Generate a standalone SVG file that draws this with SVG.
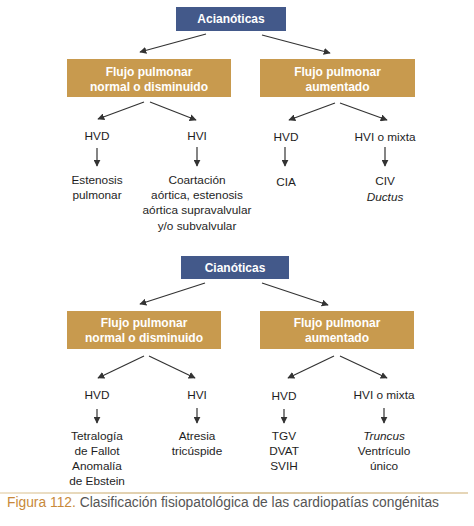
<svg xmlns="http://www.w3.org/2000/svg" width="474" height="526" viewBox="0 0 474 526">
<defs>
<marker id="ah" viewBox="0 0 10 10" refX="9" refY="5" markerWidth="7" markerHeight="7" markerUnits="userSpaceOnUse" orient="auto">
<path d="M0,0 L10,5 L0,10 z" fill="#333"/>
</marker>
<linearGradient id="sep" x1="0" x2="1" y1="0" y2="0">
<stop offset="0" stop-color="#efe3cc"/>
<stop offset="0.5" stop-color="#d8c39a"/>
<stop offset="1" stop-color="#e6d6b8"/>
</linearGradient>
</defs>
<style>
.blue{fill:#43598a}
.tan{fill:#c89a4e}
.bt{font-family:"Liberation Sans",Arial,sans-serif;font-weight:bold;font-size:12px;fill:#fff;text-anchor:middle}
.t{font-family:"Liberation Sans",Arial,sans-serif;font-size:11.8px;fill:#1e1e1e;text-anchor:middle}
.i{font-style:italic}
.c line{stroke:#333;stroke-width:1.2;marker-end:url(#ah)}
</style>
<rect width="474" height="526" fill="#fff"/>

<g id="acianoticas"><rect class="blue" x="176" y="7" width="110" height="24"/><text class="bt" x="231" y="23">Acianóticas</text></g>
<g id="a-flujo-normal"><rect class="tan" x="67" y="59" width="164" height="38"/><text class="bt" x="149" y="76">Flujo pulmonar</text><text class="bt" x="149" y="90.5">normal o disminuido</text></g>
<g id="a-flujo-aumentado"><rect class="tan" x="260" y="59" width="155" height="38"/><text class="bt" x="337.5" y="76">Flujo pulmonar</text><text class="bt" x="337.5" y="90.5">aumentado</text></g>

<g id="a-hvd1"><text class="t" x="97" y="140">HVD</text></g>
<g id="a-hvi1"><text class="t" x="197" y="140">HVI</text></g>
<g id="a-hvd2"><text class="t" x="286" y="141">HVD</text></g>
<g id="a-hvi2"><text class="t" x="385" y="141">HVI o mixta</text></g>

<g id="a-estenosis"><text class="t" x="97" y="184">Estenosis</text><text class="t" x="97" y="199">pulmonar</text></g>
<g id="a-coartacion"><text class="t" x="197" y="184">Coartación</text><text class="t" x="197" y="199">aórtica, estenosis</text><text class="t" x="197" y="214">aórtica supravalvular</text><text class="t" x="197" y="230">y/o subvalvular</text></g>
<g id="a-cia"><text class="t" x="286" y="186">CIA</text></g>
<g id="a-civ"><text class="t" x="385" y="185">CIV</text><text class="t i" x="385" y="201">Ductus</text></g>

<g id="cianoticas"><rect class="blue" x="181" y="256" width="108" height="23"/><text class="bt" x="235" y="272">Cianóticas</text></g>
<g id="c-flujo-normal"><rect class="tan" x="67" y="311" width="154" height="38"/><text class="bt" x="144" y="327">Flujo pulmonar</text><text class="bt" x="144" y="342">normal o disminuido</text></g>
<g id="c-flujo-aumentado"><rect class="tan" x="260" y="311" width="154" height="38"/><text class="bt" x="337" y="327">Flujo pulmonar</text><text class="bt" x="337" y="342">aumentado</text></g>

<g id="c-hvd1"><text class="t" x="97" y="399">HVD</text></g>
<g id="c-hvi1"><text class="t" x="197" y="399">HVI</text></g>
<g id="c-hvd2"><text class="t" x="284" y="400">HVD</text></g>
<g id="c-hvi2"><text class="t" x="384" y="399">HVI o mixta</text></g>

<g id="c-tetralogia"><text class="t" x="97" y="440">Tetralogía</text><text class="t" x="97" y="455">de Fallot</text><text class="t" x="97" y="470">Anomalía</text><text class="t" x="97" y="485">de Ebstein</text></g>
<g id="c-atresia"><text class="t" x="197" y="440">Atresia</text><text class="t" x="197" y="455">tricúspide</text></g>
<g id="c-tgv"><text class="t" x="284" y="440">TGV</text><text class="t" x="284" y="455">DVAT</text><text class="t" x="284" y="470">SVIH</text></g>
<g id="c-truncus"><text class="t i" x="384" y="440">Truncus</text><text class="t" x="384" y="455">Ventrículo</text><text class="t" x="384" y="470">único</text></g>

<g id="connectors" class="c">
<line x1="206" y1="34" x2="140" y2="52"/>
<line x1="262" y1="35" x2="330" y2="53"/>
<line x1="144" y1="102" x2="98" y2="119"/>
<line x1="150" y1="102" x2="196" y2="120"/>
<line x1="335" y1="103" x2="289" y2="120"/>
<line x1="340" y1="103" x2="387" y2="120"/>
<line x1="97" y1="148" x2="97" y2="166"/>
<line x1="197" y1="147" x2="197" y2="166"/>
<line x1="285" y1="147" x2="285" y2="166"/>
<line x1="385" y1="147" x2="385" y2="166"/>
<line x1="205" y1="283" x2="140" y2="304"/>
<line x1="262" y1="283" x2="328" y2="305"/>
<line x1="144" y1="356" x2="98" y2="378"/>
<line x1="149" y1="356" x2="195" y2="378"/>
<line x1="334" y1="356" x2="288" y2="378"/>
<line x1="340" y1="356" x2="387" y2="378"/>
<line x1="97" y1="409" x2="97" y2="423"/>
<line x1="197" y1="408" x2="197" y2="423"/>
<line x1="284" y1="409" x2="284" y2="423"/>
<line x1="384" y1="408" x2="384" y2="423"/>
</g>

<rect x="0" y="492" width="468" height="2" fill="url(#sep)"/>
<text x="7" y="507" font-family="Liberation Sans,Arial,sans-serif" font-size="14" textLength="432" lengthAdjust="spacingAndGlyphs"><tspan fill="#c8893a">Figura 112.</tspan><tspan fill="#555"> Clasificación fisiopatológica de las cardiopatías congénitas</tspan></text>
</svg>
